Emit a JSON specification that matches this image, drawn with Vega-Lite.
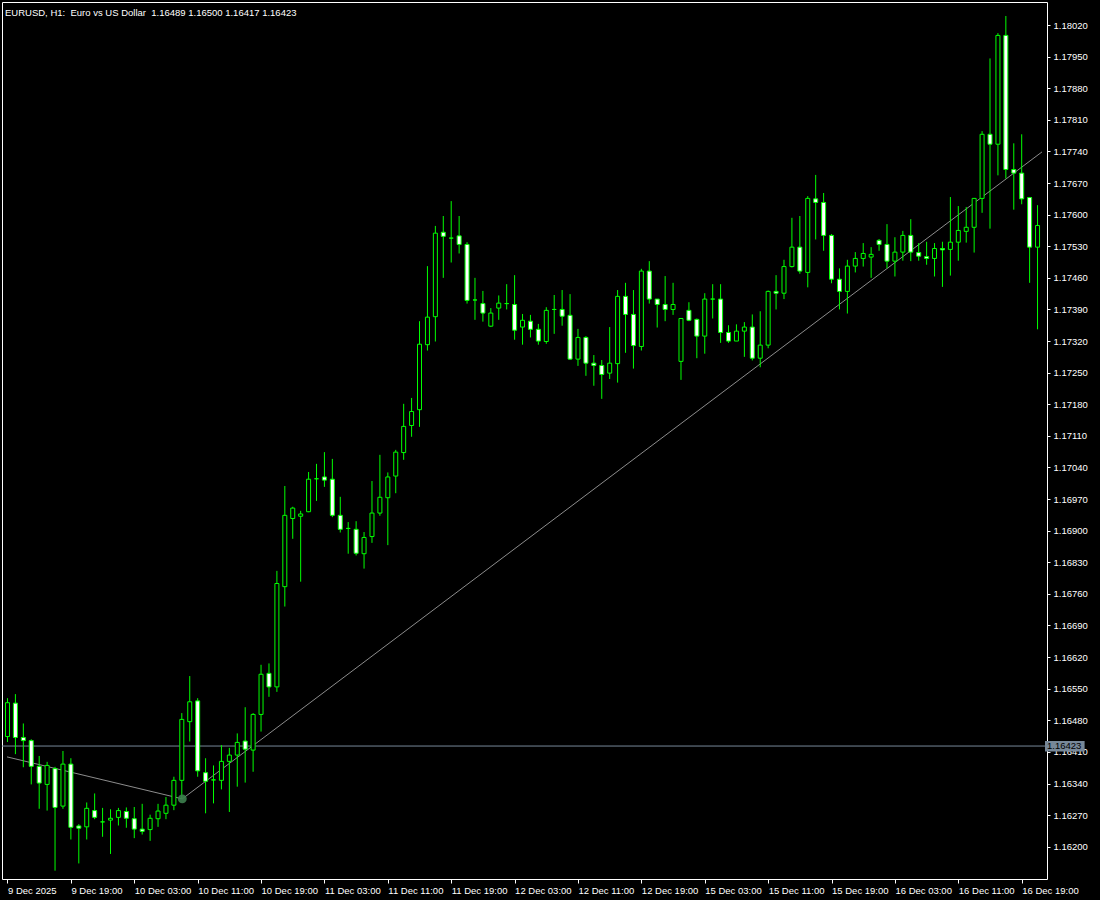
{
  "$schema": "https://vega.github.io/schema/vega-lite/v6.json",
  "width": 1045,
  "height": 877,
  "autosize": {"type": "none"},
  "padding": {"left": 2, "top": 2, "right": 53, "bottom": 21},
  "background": "#000000",
  "title": {
    "text": "EURUSD, H1:\u00a0 Euro vs US Dollar\u00a0 1.16489 1.16500 1.16417 1.16423",
    "anchor": "start",
    "frame": "group",
    "orient": "top",
    "offset": -13,
    "dx": 3,
    "dy": 10,
    "baseline": "alphabetic",
    "color": "#ffffff",
    "font": "Liberation Sans",
    "fontSize": 9.5,
    "fontWeight": "normal"
  },
  "config": {
    "view": {"stroke": "#ffffff", "strokeWidth": 1, "fill": "#000000"},
    "axis": {
      "grid": false,
      "domainColor": "#ffffff",
      "tickColor": "#ffffff",
      "labelColor": "#ffffff",
      "labelFont": "Liberation Sans",
      "labelFontSize": 9.5,
      "labelOverlap": false,
      "labelBound": false,
      "labelFlush": false,
      "title": null
    }
  },
  "datasets": {
    "candles": [
      {"i":0,"o":1.16444,"h":1.16529,"l":1.16432,"c":1.16519},
      {"i":1,"o":1.16518,"h":1.16538,"l":1.16405,"c":1.16442},
      {"i":2,"o":1.16442,"h":1.16473,"l":1.16376,"c":1.16435},
      {"i":3,"o":1.16435,"h":1.16438,"l":1.16338,"c":1.16378},
      {"i":4,"o":1.16378,"h":1.16401,"l":1.16284,"c":1.16341},
      {"i":5,"o":1.16338,"h":1.16388,"l":1.16280,"c":1.16380},
      {"i":6,"o":1.16373,"h":1.16377,"l":1.16147,"c":1.16287},
      {"i":7,"o":1.16290,"h":1.16412,"l":1.16284,"c":1.16383},
      {"i":8,"o":1.16383,"h":1.16396,"l":1.16216,"c":1.16243},
      {"i":9,"o":1.16246,"h":1.16250,"l":1.16163,"c":1.16241},
      {"i":10,"o":1.16244,"h":1.16298,"l":1.16216,"c":1.16285},
      {"i":11,"o":1.16280,"h":1.16318,"l":1.16261,"c":1.16265},
      {"i":12,"o":1.16255,"h":1.16286,"l":1.16222,"c":1.16255},
      {"i":13,"o":1.16259,"h":1.16283,"l":1.16184,"c":1.16263},
      {"i":14,"o":1.16265,"h":1.16286,"l":1.16247,"c":1.16280},
      {"i":15,"o":1.16278,"h":1.16287,"l":1.16242,"c":1.16263},
      {"i":16,"o":1.16262,"h":1.16288,"l":1.16219,"c":1.16239},
      {"i":17,"o":1.16239,"h":1.16295,"l":1.16227,"c":1.16234},
      {"i":18,"o":1.16238,"h":1.16271,"l":1.16213,"c":1.16263},
      {"i":19,"o":1.16262,"h":1.16295,"l":1.16244,"c":1.16279},
      {"i":20,"o":1.16274,"h":1.16310,"l":1.16261,"c":1.16292},
      {"i":21,"o":1.16292,"h":1.16355,"l":1.16281,"c":1.16347},
      {"i":22,"o":1.16347,"h":1.16496,"l":1.16306,"c":1.16482},
      {"i":23,"o":1.16477,"h":1.16578,"l":1.16433,"c":1.16521},
      {"i":24,"o":1.16523,"h":1.16529,"l":1.16355,"c":1.16368},
      {"i":25,"o":1.16364,"h":1.16396,"l":1.16274,"c":1.16345},
      {"i":26,"o":1.16348,"h":1.16380,"l":1.16296,"c":1.16348},
      {"i":27,"o":1.16347,"h":1.16425,"l":1.16327,"c":1.16389},
      {"i":28,"o":1.16389,"h":1.16419,"l":1.16277,"c":1.16403},
      {"i":29,"o":1.16403,"h":1.16451,"l":1.16333,"c":1.16431},
      {"i":30,"o":1.16434,"h":1.16509,"l":1.16342,"c":1.16416},
      {"i":31,"o":1.16414,"h":1.16496,"l":1.16366,"c":1.16493},
      {"i":32,"o":1.16493,"h":1.16603,"l":1.16455,"c":1.16582},
      {"i":33,"o":1.16584,"h":1.16606,"l":1.16532,"c":1.16554},
      {"i":34,"o":1.16554,"h":1.16811,"l":1.16543,"c":1.16783},
      {"i":35,"o":1.16776,"h":1.16999,"l":1.16732,"c":1.16934},
      {"i":36,"o":1.16927,"h":1.16953,"l":1.16882,"c":1.16950},
      {"i":37,"o":1.16932,"h":1.16944,"l":1.16787,"c":1.16937},
      {"i":38,"o":1.16942,"h":1.17030,"l":1.16941,"c":1.17014},
      {"i":39,"o":1.17015,"h":1.17048,"l":1.16966,"c":1.17015},
      {"i":40,"o":1.17019,"h":1.17074,"l":1.16997,"c":1.17012},
      {"i":41,"o":1.17014,"h":1.17059,"l":1.16930,"c":1.16934},
      {"i":42,"o":1.16934,"h":1.16975,"l":1.16896,"c":1.16903},
      {"i":43,"o":1.16905,"h":1.16919,"l":1.16849,"c":1.16905},
      {"i":44,"o":1.16903,"h":1.16921,"l":1.16845,"c":1.16850},
      {"i":45,"o":1.16849,"h":1.16897,"l":1.16816,"c":1.16885},
      {"i":46,"o":1.16887,"h":1.17010,"l":1.16873,"c":1.16939},
      {"i":47,"o":1.16939,"h":1.17068,"l":1.16933,"c":1.16974},
      {"i":48,"o":1.16973,"h":1.17029,"l":1.16868,"c":1.17019},
      {"i":49,"o":1.17021,"h":1.17079,"l":1.16983,"c":1.17074},
      {"i":50,"o":1.17073,"h":1.17181,"l":1.17057,"c":1.17131},
      {"i":51,"o":1.17133,"h":1.17194,"l":1.17108,"c":1.17164},
      {"i":52,"o":1.17168,"h":1.17364,"l":1.17130,"c":1.17313},
      {"i":53,"o":1.17312,"h":1.17486,"l":1.17299,"c":1.17373},
      {"i":54,"o":1.17374,"h":1.17575,"l":1.17319,"c":1.17559},
      {"i":55,"o":1.17561,"h":1.17597,"l":1.17460,"c":1.17552},
      {"i":56,"o":1.17548,"h":1.17630,"l":1.17494,"c":1.17548},
      {"i":57,"o":1.17553,"h":1.17597,"l":1.17514,"c":1.17534},
      {"i":58,"o":1.17534,"h":1.17539,"l":1.17403,"c":1.17410},
      {"i":59,"o":1.17411,"h":1.17460,"l":1.17367,"c":1.17411},
      {"i":60,"o":1.17403,"h":1.17431,"l":1.17363,"c":1.17382},
      {"i":61,"o":1.17353,"h":1.17393,"l":1.17351,"c":1.17382},
      {"i":62,"o":1.17393,"h":1.17421,"l":1.17367,"c":1.17404},
      {"i":63,"o":1.17403,"h":1.17446,"l":1.17390,"c":1.17403},
      {"i":64,"o":1.17401,"h":1.17466,"l":1.17323,"c":1.17344},
      {"i":65,"o":1.17351,"h":1.17380,"l":1.17312,"c":1.17366},
      {"i":66,"o":1.17364,"h":1.17378,"l":1.17328,"c":1.17346},
      {"i":67,"o":1.17346,"h":1.17358,"l":1.17312,"c":1.17320},
      {"i":68,"o":1.17319,"h":1.17395,"l":1.17314,"c":1.17388},
      {"i":69,"o":1.17390,"h":1.17422,"l":1.17336,"c":1.17390},
      {"i":70,"o":1.17390,"h":1.17433,"l":1.17354,"c":1.17375},
      {"i":71,"o":1.17377,"h":1.17424,"l":1.17278,"c":1.17280},
      {"i":72,"o":1.17280,"h":1.17347,"l":1.17265,"c":1.17328},
      {"i":73,"o":1.17328,"h":1.17331,"l":1.17243,"c":1.17271},
      {"i":74,"o":1.17271,"h":1.17289,"l":1.17221,"c":1.17266},
      {"i":75,"o":1.17266,"h":1.17278,"l":1.17192,"c":1.17246},
      {"i":76,"o":1.17249,"h":1.17351,"l":1.17236,"c":1.17271},
      {"i":77,"o":1.17270,"h":1.17433,"l":1.17228,"c":1.17419},
      {"i":78,"o":1.17419,"h":1.17449,"l":1.17294,"c":1.17379},
      {"i":79,"o":1.17379,"h":1.17433,"l":1.17259,"c":1.17310},
      {"i":80,"o":1.17308,"h":1.17480,"l":1.17299,"c":1.17475},
      {"i":81,"o":1.17475,"h":1.17497,"l":1.17403,"c":1.17413},
      {"i":82,"o":1.17413,"h":1.17413,"l":1.17350,"c":1.17401},
      {"i":83,"o":1.17401,"h":1.17464,"l":1.17364,"c":1.17390},
      {"i":84,"o":1.17390,"h":1.17449,"l":1.17378,"c":1.17401},
      {"i":85,"o":1.17275,"h":1.17371,"l":1.17234,"c":1.17370},
      {"i":86,"o":1.17388,"h":1.17406,"l":1.17364,"c":1.17366},
      {"i":87,"o":1.17368,"h":1.17370,"l":1.17282,"c":1.17331},
      {"i":88,"o":1.17331,"h":1.17426,"l":1.17292,"c":1.17413},
      {"i":89,"o":1.17413,"h":1.17446,"l":1.17370,"c":1.17413},
      {"i":90,"o":1.17413,"h":1.17446,"l":1.17316,"c":1.17339},
      {"i":91,"o":1.17339,"h":1.17355,"l":1.17316,"c":1.17320},
      {"i":92,"o":1.17320,"h":1.17357,"l":1.17320,"c":1.17342},
      {"i":93,"o":1.17342,"h":1.17362,"l":1.17285,"c":1.17351},
      {"i":94,"o":1.17351,"h":1.17379,"l":1.17277,"c":1.17282},
      {"i":95,"o":1.17282,"h":1.17386,"l":1.17262,"c":1.17311},
      {"i":96,"o":1.17311,"h":1.17432,"l":1.17304,"c":1.17430},
      {"i":97,"o":1.17430,"h":1.17466,"l":1.17390,"c":1.17426},
      {"i":98,"o":1.17426,"h":1.17500,"l":1.17413,"c":1.17485},
      {"i":99,"o":1.17485,"h":1.17593,"l":1.17483,"c":1.17528},
      {"i":100,"o":1.17528,"h":1.17597,"l":1.17469,"c":1.17475},
      {"i":101,"o":1.17472,"h":1.17641,"l":1.17439,"c":1.17636},
      {"i":102,"o":1.17635,"h":1.17688,"l":1.17545,"c":1.17627},
      {"i":103,"o":1.17627,"h":1.17648,"l":1.17520,"c":1.17554},
      {"i":104,"o":1.17554,"h":1.17557,"l":1.17448,"c":1.17457},
      {"i":105,"o":1.17457,"h":1.17481,"l":1.17390,"c":1.17430},
      {"i":106,"o":1.17430,"h":1.17500,"l":1.17381,"c":1.17486},
      {"i":107,"o":1.17486,"h":1.17517,"l":1.17472,"c":1.17503},
      {"i":108,"o":1.17503,"h":1.17537,"l":1.17485,"c":1.17514},
      {"i":109,"o":1.17506,"h":1.17528,"l":1.17460,"c":1.17512},
      {"i":110,"o":1.17543,"h":1.17546,"l":1.17520,"c":1.17534},
      {"i":111,"o":1.17534,"h":1.17579,"l":1.17481,"c":1.17497},
      {"i":112,"o":1.17497,"h":1.17550,"l":1.17463,"c":1.17517},
      {"i":113,"o":1.17517,"h":1.17564,"l":1.17498,"c":1.17554},
      {"i":114,"o":1.17554,"h":1.17590,"l":1.17497,"c":1.17517},
      {"i":115,"o":1.17516,"h":1.17537,"l":1.17498,"c":1.17508},
      {"i":116,"o":1.17507,"h":1.17540,"l":1.17489,"c":1.17503},
      {"i":117,"o":1.17503,"h":1.17537,"l":1.17463,"c":1.17525},
      {"i":118,"o":1.17525,"h":1.17540,"l":1.17440,"c":1.17522},
      {"i":119,"o":1.17523,"h":1.17639,"l":1.17465,"c":1.17539},
      {"i":120,"o":1.17539,"h":1.17619,"l":1.17498,"c":1.17565},
      {"i":121,"o":1.17563,"h":1.17617,"l":1.17538,"c":1.17572},
      {"i":122,"o":1.17572,"h":1.17637,"l":1.17516,"c":1.17636},
      {"i":123,"o":1.17636,"h":1.17785,"l":1.17604,"c":1.17778},
      {"i":124,"o":1.17778,"h":1.17946,"l":1.17569,"c":1.17756},
      {"i":125,"o":1.17756,"h":1.18002,"l":1.17687,"c":1.17997},
      {"i":126,"o":1.17997,"h":1.18040,"l":1.17680,"c":1.17700},
      {"i":127,"o":1.17700,"h":1.17758,"l":1.17611,"c":1.17692},
      {"i":128,"o":1.17692,"h":1.17778,"l":1.17623,"c":1.17635},
      {"i":129,"o":1.17638,"h":1.17639,"l":1.17449,"c":1.17528},
      {"i":130,"o":1.17528,"h":1.17621,"l":1.17346,"c":1.17576}
    ],
    "trend": [
      {"i": -0.0625, "p": 1.16399},
      {"i": 22.06, "p": 1.16306},
      {"i": 130.5625, "p": 1.17739}
    ],
    "anchor": [
      {"i": 22.06, "p": 1.16306}
    ],
    "bid": [
      {"p": 1.16423, "label": "1.16423"}
    ]
  },
  "encoding": {
    "x": {
      "type": "quantitative",
      "scale": {"domain": [-0.0625, 130.5625], "zero": false, "nice": false},
      "axis": {
        "orient": "bottom",
        "values": [0, 8, 16, 24, 32, 40, 48, 56, 64, 72, 80, 88, 96, 104, 112, 120, 128],
        "labelExpr": "['9 Dec 2025','9 Dec 19:00','10 Dec 03:00','10 Dec 11:00','10 Dec 19:00','11 Dec 03:00','11 Dec 11:00','11 Dec 19:00','12 Dec 03:00','12 Dec 11:00','12 Dec 19:00','15 Dec 03:00','15 Dec 11:00','15 Dec 19:00','16 Dec 03:00','16 Dec 11:00','16 Dec 19:00'][round(datum.value/8)]",
        "labelAlign": "left",
        "labelBaseline": "top",
        "labelPadding": 2,
        "tickSize": 4,
        "labelOverlap": false,
        "labelBound": false,
        "labelFlush": false,
        "domain": false
      }
    },
    "y": {
      "type": "quantitative",
      "scale": {"domain": [1.161285, 1.18071], "zero": false, "nice": false},
      "axis": {
        "orient": "right",
        "values": [1.162, 1.1627, 1.1634, 1.1641, 1.1648, 1.1655, 1.1662, 1.1669, 1.1676, 1.1683, 1.169, 1.1697, 1.1704, 1.1711, 1.1718, 1.1725, 1.1732, 1.1739, 1.1746, 1.1753, 1.176, 1.1767, 1.1774, 1.1781, 1.1788, 1.1795, 1.1802],
        "format": ".5f",
        "tickSize": 3,
        "labelPadding": 3,
        "labelAlign": "left",
        "labelBaseline": "middle",
        "labelOverlap": false,
        "labelBound": false,
        "labelFlush": false,
        "domain": false
      }
    }
  },
  "layer": [
    {
      "data": {"name": "bid"},
      "mark": {"type": "rule", "color": "#778899", "strokeWidth": 1},
      "encoding": {
        "y": {"field": "p"}
      }
    },
    {
      "data": {"name": "trend"},
      "mark": {"type": "line", "color": "#8c8c8c", "strokeWidth": 1, "clip": true},
      "encoding": {
        "x": {"field": "i"},
        "y": {"field": "p"}
      }
    },
    {
      "data": {"name": "candles"},
      "mark": {"type": "rule", "color": "#00ff00", "strokeWidth": 1},
      "encoding": {
        "x": {"field": "i"},
        "y": {"field": "l"},
        "y2": {"field": "h"}
      }
    },
    {
      "data": {"name": "candles"},
      "mark": {"type": "bar", "size": 4, "stroke": "#00ff00", "strokeWidth": 1, "orient": "vertical"},
      "encoding": {
        "x": {"field": "i"},
        "y": {"field": "o"},
        "y2": {"field": "c"},
        "fill": {"condition": {"test": "datum.c > datum.o", "value": "#000000"}, "value": "#ffffff"}
      }
    },
    {
      "data": {"name": "anchor"},
      "mark": {"type": "point", "filled": true, "size": 80, "color": "#3d7f4e", "opacity": 0.9},
      "encoding": {
        "x": {"field": "i"},
        "y": {"field": "p"}
      }
    },
    {
      "data": {"name": "bid"},
      "mark": {"type": "rect", "color": "#778899"},
      "encoding": {
        "x": {"datum": 130.94},
        "x2": {"datum": 135.94},
        "y": {"datum": 1.16434},
        "y2": {"datum": 1.16411}
      }
    },
    {
      "data": {"name": "bid"},
      "mark": {"type": "text", "align": "left", "baseline": "middle", "color": "#000000", "font": "Liberation Sans", "fontSize": 9.5, "dx": 2},
      "encoding": {
        "x": {"datum": 130.94},
        "y": {"field": "p"},
        "text": {"field": "label"}
      }
    }
  ]
}
